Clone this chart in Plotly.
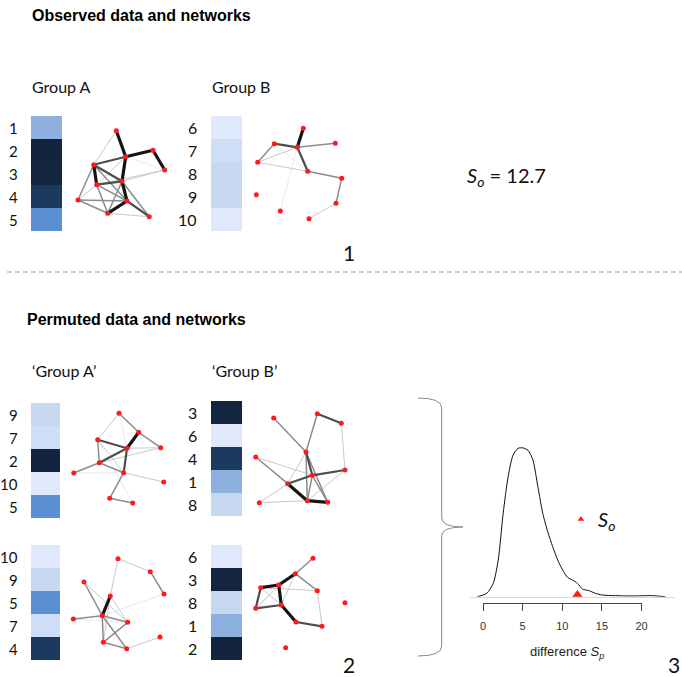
import plotly.graph_objects as go

# ---------------- data ----------------
# colour of each individual's value (individuals 1..10)
IND_COLORS = ["#8DB0DF", "#13243F", "#14253F", "#1C3A5E", "#5B8FD3",
              "#E0E8FB", "#CEDEF6", "#C6D8EF", "#C6D8EF", "#E0E8FB"]

OBS_A_IDS = [1, 2, 3, 4, 5]
OBS_B_IDS = [6, 7, 8, 9, 10]
PERM1_A_IDS = [9, 7, 2, 10, 5]
PERM1_B_IDS = [3, 6, 4, 1, 8]
PERM2_A_IDS = [10, 9, 5, 7, 4]
PERM2_B_IDS = [6, 3, 8, 1, 2]

# network node positions (canvas pixel units) and weighted edges (i, j, strength 0-4)
OBS_A_X = [116.3, 125.7, 153, 164.7, 93.7, 96.7, 122, 78, 127, 107.7, 149.3]
OBS_A_Y = [130.7, 156.7, 150.3, 170, 164.7, 184.7, 181.3, 200, 201, 213.3, 216.7]
OBS_A_E = [(0, 1, 4), (1, 2, 4), (2, 3, 4), (4, 1, 3), (1, 6, 4), (6, 8, 4), (4, 5, 4),
           (4, 6, 3), (5, 6, 3), (5, 8, 2), (5, 9, 2), (4, 7, 2), (7, 5, 1), (7, 8, 2),
           (7, 9, 2), (9, 8, 4), (6, 9, 2), (8, 10, 3), (6, 10, 2), (9, 10, 1),
           (0, 4, 1), (3, 6, 1), (3, 5, 1), (3, 1, 0), (1, 5, 1), (4, 8, 2)]

OBS_B_X = [303.3, 297.3, 274.3, 335.3, 257.7, 307.7, 341.7, 256.3, 336, 280.3, 309]
OBS_B_Y = [128.3, 147.3, 143.7, 143.3, 162.3, 171.3, 178.3, 194.7, 203.3, 211, 218.7]
OBS_B_E = [(0, 1, 4), (1, 2, 3), (1, 3, 2), (2, 4, 2), (1, 5, 3), (5, 6, 2), (6, 8, 2),
           (8, 10, 1), (1, 4, 1), (4, 5, 1), (2, 5, 0), (1, 9, 0)]

P1A_X = [119, 138.7, 97.7, 127, 160.7, 99.3, 123.7, 73.7, 163.7, 109.7, 132.7]
P1A_Y = [413.3, 432.3, 439.7, 448.3, 447.7, 462.7, 472.7, 473, 482, 498.3, 503]
P1A_E = [(0, 1, 2), (1, 3, 4), (1, 4, 2), (2, 3, 3), (2, 5, 2), (3, 4, 1), (3, 5, 3),
         (3, 6, 3), (5, 6, 2), (5, 7, 2), (6, 8, 1), (6, 9, 2), (9, 10, 2), (0, 2, 1),
         (2, 6, 1), (0, 3, 0), (5, 4, 1), (7, 6, 0), (2, 10, 0)]

P1B_X = [273.7, 317.3, 341.3, 306, 255.7, 345, 312.3, 287.7, 259.3, 307.3, 327.7]
P1B_Y = [418, 413.7, 423.3, 452, 457, 470, 475.3, 483.7, 502.7, 500.7, 502.3]
P1B_E = [(1, 2, 3), (1, 3, 2), (2, 5, 1), (0, 3, 2), (3, 6, 3), (3, 9, 2), (3, 10, 2),
         (4, 7, 2), (4, 6, 1), (5, 6, 3), (6, 7, 3), (7, 9, 4), (9, 10, 4), (6, 9, 2),
         (6, 10, 2), (8, 9, 1), (8, 7, 1), (7, 3, 1), (5, 9, 1)]

P2A_X = [118, 150.3, 84, 164, 110.3, 73.3, 102.3, 127.7, 160, 103.3, 126.7]
P2A_Y = [558.7, 571.7, 582, 594, 596, 619, 615.7, 622.3, 637, 642.3, 648.7]
P2A_E = [(0, 1, 1), (1, 3, 2), (0, 4, 1), (4, 6, 4), (2, 6, 2), (2, 7, 1), (5, 6, 2),
         (6, 7, 2), (6, 9, 2), (6, 10, 2), (4, 7, 1), (7, 9, 2), (9, 10, 2), (10, 8, 1),
         (3, 6, 0), (5, 7, 0), (4, 9, 1)]

P2B_X = [313, 295.3, 260.7, 278.7, 317.3, 281.3, 255.7, 345, 296, 322, 285.7]
P2B_Y = [558.3, 573.7, 587.7, 585, 590.7, 605, 608.3, 602.7, 622, 626.3, 647.7]
P2B_E = [(0, 1, 2), (1, 3, 4), (2, 3, 4), (3, 5, 4), (2, 6, 3), (6, 5, 3), (1, 4, 2),
         (4, 9, 1), (8, 9, 3), (5, 8, 4), (2, 5, 1), (3, 6, 1), (1, 5, 1), (2, 4, 1),
         (1, 6, 0)]

# permutation distribution of the difference S_p
DENS_X = [-0.7, 0.46, 1.29, 1.92, 2.54, 3.17, 3.79, 4.42, 5.04, 5.67, 6.29, 6.92, 7.54,
          8.17, 8.79, 9.42, 10.04, 10.67, 11.29, 11.92, 12.54, 13.38, 14.21, 15.04,
          16.7, 18.8, 21.3, 23]
DENS_Y = [0, .0041, .0166, .0459, .104, .15, .177, .1855, .186, .183, .171, .1375, .104,
          .081, .0625, .0459, .0334, .0241, .0209, .0166, .0096, .0075, .0041, .0021,
          .0013, .0009, .0013, 0]
S_OBS = 11.9
TICKS = [0, 5, 10, 15, 20]

# ---------------- layout constants ----------------
W, H = 682, 677
ROW_H = 23
LABEL_FONT = dict(family="Lato, Calibri, sans-serif", size=16, color="#111")
ROWLAB_A_FONT = dict(family="Lato, Calibri, sans-serif", size=15, color="#111")
TITLE_FONT = dict(family="Liberation Sans, Arial, sans-serif", size=16, color="#000")
EDGE_STYLE = {4: (3.2, "#141414"), 3: (2.2, "#4d4d4d"), 2: (1.5, "#8c8c8c"),
              1: (1.0, "#c9c9c9"), 0: (0.8, "#e4e4e4")}

fig = go.Figure()

colorscale = []
for i, c in enumerate(IND_COLORS):
    colorscale.append([i / 10, c])
    colorscale.append([(i + 1) / 10, c])

annotations = []


def add_column(ids, x0, x1, ytop, label_right, font):
    edges = [ytop + k * ROW_H for k in range(len(ids) + 1)]
    fig.add_trace(go.Heatmap(z=[[v] for v in ids], x=[x0, x1], y=edges,
                             colorscale=colorscale, zmin=0.5, zmax=10.5,
                             showscale=False, hoverinfo="skip", xgap=0, ygap=0))
    for k, v in enumerate(ids):
        annotations.append(dict(x=label_right, y=ytop + (k + 0.5) * ROW_H, text=str(v),
                                xanchor="right", yanchor="middle", showarrow=False,
                                borderpad=0, font=font, xref="x", yref="y"))


def add_network(xs, ys, edges):
    for w in [0, 1, 2, 3, 4]:
        ex, ey = [], []
        for i, j, s in edges:
            if s == w:
                ex += [xs[i], xs[j], None]
                ey += [ys[i], ys[j], None]
        if ex:
            width, color = EDGE_STYLE[w]
            fig.add_trace(go.Scatter(x=ex, y=ey, mode="lines",
                                     line=dict(width=width, color=color),
                                     hoverinfo="skip", showlegend=False))
    fig.add_trace(go.Scatter(x=xs, y=ys, mode="markers",
                             marker=dict(size=5, color="#ff1a1a", line=dict(width=0)),
                             hoverinfo="skip", showlegend=False))


add_column(OBS_A_IDS, 31, 62, 116, 18.5, ROWLAB_A_FONT)
add_column(OBS_B_IDS, 211, 242, 116, 198, LABEL_FONT)
add_column(PERM1_A_IDS, 31, 60, 403, 18.5, ROWLAB_A_FONT)
add_column(PERM1_B_IDS, 211, 242, 401, 198, LABEL_FONT)
add_column(PERM2_A_IDS, 31, 60, 545, 18.5, ROWLAB_A_FONT)
add_column(PERM2_B_IDS, 211, 242, 545, 198, LABEL_FONT)

add_network(OBS_A_X, OBS_A_Y, OBS_A_E)
add_network(OBS_B_X, OBS_B_Y, OBS_B_E)
add_network(P1A_X, P1A_Y, P1A_E)
add_network(P1B_X, P1B_Y, P1B_E)
add_network(P2A_X, P2A_Y, P2A_E)
add_network(P2B_X, P2B_Y, P2B_E)

# density subplot
fig.add_trace(go.Scatter(x=DENS_X, y=DENS_Y, mode="lines", xaxis="x2", yaxis="y2",
                         line=dict(color="#111", width=1, shape="spline", smoothing=0.7),
                         hoverinfo="skip", showlegend=False))
fig.add_trace(go.Scatter(x=[S_OBS], y=[0.002], mode="markers", xaxis="x2", yaxis="y2",
                         marker=dict(symbol="triangle-up", size=10, color="#ff1a1a"),
                         hoverinfo="skip", showlegend=False))
fig.add_trace(go.Scatter(x=[12.35], y=[0.0968], mode="markers", xaxis="x2", yaxis="y2",
                         marker=dict(symbol="triangle-up", size=6, color="#ff1a1a"),
                         hoverinfo="skip", showlegend=False))
fig.add_trace(go.Scatter(x=[TICKS[0], TICKS[-1]], y=[0, 0], mode="markers", xaxis="x3",
                         yaxis="y3", marker=dict(size=1, opacity=0),
                         hoverinfo="skip", showlegend=False))

# text annotations
def txt(x, y, t, font, xanchor="left"):
    annotations.append(dict(x=x, y=y, text=t, xanchor=xanchor, yanchor="middle",
                            showarrow=False, font=font, xref="x", yref="y"))


txt(30, 15, "<b>Observed data and networks</b>", TITLE_FONT)
txt(25, 319, "<b>Permuted data and networks</b>", TITLE_FONT)
txt(30, 86, "Group A", LABEL_FONT)
txt(210, 86, "Group B", LABEL_FONT)
txt(30, 370, "\u2018Group A\u2019", LABEL_FONT)
txt(210, 370, "\u2018Group B\u2019", LABEL_FONT)
BIG = dict(family="Lato, Calibri, sans-serif", size=21, color="#111")
txt(349, 252, "1", BIG, "center")
txt(349, 664, "2", BIG, "center")
txt(674, 664, "3", BIG, "center")
txt(465, 176, "<i>S</i><sub><i>o</i></sub> = 12.7",
    dict(family="Lato, Calibri, sans-serif", size=20, color="#111"))
txt(596, 520, "<i>S<sub>o</sub></i>",
    dict(family="Lato, Calibri, sans-serif", size=20, color="#111"))
txt(567, 652, "difference <i>S<sub>p</sub></i>",
    dict(family="Liberation Sans, Arial, sans-serif", size=13, color="#222"), "center")

shapes = [
    dict(type="line", xref="x", yref="y", x0=7, x1=682, y0=272, y1=272,
         line=dict(color="#9a9a9a", width=1, dash="5px,3px")),
    dict(type="path", xref="x", yref="y",
         path="M 418,398 Q 441.7,398 441.7,408 L 441.7,518 Q 441.7,527 463,527 "
              "Q 441.7,527 441.7,536 L 441.7,646 Q 441.7,656 418,656",
         line=dict(color="#8a8a8a", width=1)),
]

# density axes geometry (pixels -> paper)
PX0 = 483.0  # pixel of value 0
PPU = 7.93   # pixels per unit
X2L, X2R = 470, 675
BASE = 596.7
TOP2 = 430
AXL = 603

fig.update_layout(
    width=W, height=H, margin=dict(l=0, r=0, t=0, b=0, autoexpand=False),
    paper_bgcolor="white", plot_bgcolor="rgba(0,0,0,0)",
    showlegend=False,
    xaxis=dict(range=[0, W], domain=[0, 1], visible=False, fixedrange=True),
    yaxis=dict(range=[H, 0], domain=[0, 1], visible=False, fixedrange=True),
    xaxis2=dict(domain=[X2L / W, X2R / W],
                range=[(X2L - PX0) / PPU, (X2R - PX0) / PPU],
                anchor="y2", showline=True, linecolor="#d9d9d9", linewidth=1,
                showgrid=False, zeroline=False, showticklabels=False, ticks=""),
    yaxis2=dict(domain=[(H - BASE) / H, (H - TOP2) / H],
                range=[0, (BASE - TOP2) / 800], anchor="x2", visible=False),
    xaxis3=dict(domain=[PX0 / W, (PX0 + 20 * PPU) / W], range=[0, 20], anchor="y3",
                showline=True, linecolor="#444", linewidth=1, ticks="outside",
                ticklen=7, tickcolor="#444", tickvals=TICKS, showgrid=False,
                zeroline=False, ticklabelstandoff=6,
                tickfont=dict(family="Liberation Sans, Arial, sans-serif", size=11,
                              color="#333")),
    yaxis3=dict(domain=[(H - AXL) / H, (H - AXL + 10) / H], anchor="x3", visible=False),
    annotations=annotations, shapes=shapes,
)

fig.write_html(
    "out.html",
    config={"displayModeBar": False, "responsive": False},
    post_script=("document.documentElement.style.overflow='hidden';"
                 "document.body.style.margin='0';"
                 "document.body.style.overflow='hidden';"),
)
